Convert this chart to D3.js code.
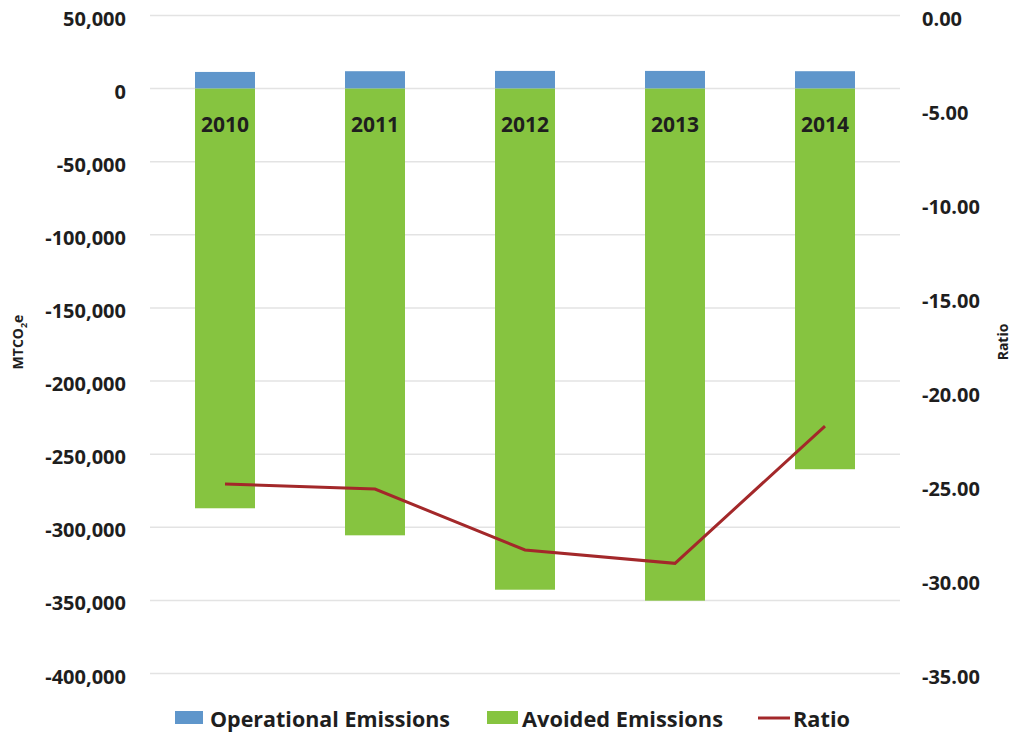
<!DOCTYPE html>
<html>
<head>
<meta charset="utf-8">
<script src="https://cdn.jsdelivr.net/npm/d3@7"></script>
<style>
  body { margin: 0; background: #fff; }
  text { font-family: "Open Sans", "Noto Sans", sans-serif; font-weight: 700; fill: #1e1e1e; }
</style>
</head>
<body>
<div id="chart"></div>
<script>
// data
const years = ["2010", "2011", "2012", "2013", "2014"];
const operational = [11400, 11900, 12100, 12100, 11900];
const avoided = [-287000, -305500, -342700, -350200, -260300];
const ratio = [-24.92, -25.19, -28.43, -29.14, -21.84];

const leftTicks = [50000, 0, -50000, -100000, -150000, -200000, -250000, -300000, -350000, -400000];
const rightTicks = [0, -5, -10, -15, -20, -25, -30, -35];

const width = 1013;
const height = 732;

const svg = d3.select("#chart")
    .append("svg")
    .attr("width", width)
    .attr("height", height);

// scales
const x = d3.scaleBand()
    .domain(years)
    .range([150, 900])
    .paddingInner(0.6)
    .paddingOuter(0.3);

const yL = d3.scaleLinear().domain([-400000, 50000]).range([673.5, 15.5]);
const yR = d3.scaleLinear().domain([-35, 0]).range([673.5, 15.5]);

// gridlines
svg.append("g")
    .selectAll("line")
    .data(leftTicks)
    .join("line")
    .attr("x1", 150)
    .attr("x2", 900)
    .attr("y1", d => yL(d))
    .attr("y2", d => yL(d))
    .attr("stroke", "#e3e3e3")
    .attr("stroke-width", 1.5);

// d3 uses a unicode minus, the original uses a plain hyphen
const hy = s => s.replace("\u2212", "-");

// left axis labels
const fmt = d3.format(",");
svg.append("g")
    .selectAll("text")
    .data(leftTicks)
    .join("text")
    .attr("x", 126)
    .attr("y", d => yL(d) + 10)
    .attr("text-anchor", "end")
    .attr("font-size", 20)
    .text(d => hy(fmt(d)));

// right axis labels
svg.append("g")
    .selectAll("text")
    .data(rightTicks)
    .join("text")
    .attr("x", 922)
    .attr("y", d => yR(d) + 10)
    .attr("text-anchor", "start")
    .attr("font-size", 20)
    .text(d => hy(d3.format(".2f")(d)));

// stacked bars: operational above zero, avoided below
const data = years.map((y, i) => ({year: y, op: operational[i], av: avoided[i], r: ratio[i]}));

svg.append("g")
    .selectAll("rect")
    .data(data)
    .join("rect")
    .attr("x", d => x(d.year))
    .attr("y", d => yL(d.op))
    .attr("width", x.bandwidth())
    .attr("height", d => yL(0) - yL(d.op))
    .attr("fill", "#5f96cb");

svg.append("g")
    .selectAll("rect")
    .data(data)
    .join("rect")
    .attr("x", d => x(d.year))
    .attr("y", yL(0))
    .attr("width", x.bandwidth())
    .attr("height", d => yL(d.av) - yL(0))
    .attr("fill", "#86c440");

// year labels inside the bars
svg.append("g")
    .selectAll("text")
    .data(data)
    .join("text")
    .attr("x", d => x(d.year) + x.bandwidth() / 2)
    .attr("y", yL(0) + 43)
    .attr("text-anchor", "middle")
    .attr("font-size", 21)
    .attr("fill", "#111")
    .text(d => d.year);

// ratio line
const line = d3.line()
    .x(d => x(d.year) + x.bandwidth() / 2)
    .y(d => yR(d.r));

svg.append("path")
    .datum(data)
    .attr("d", line)
    .attr("fill", "none")
    .attr("stroke", "#a3282a")
    .attr("stroke-width", 3);

// axis titles
const lt = svg.append("text")
    .attr("transform", "translate(23,342) rotate(-90)")
    .attr("text-anchor", "middle")
    .attr("font-size", 14);
lt.append("tspan").text("MTCO");
lt.append("tspan").attr("font-size", 9).attr("dy", 4).text("2");
lt.append("tspan").attr("dy", -4).text("e");

svg.append("text")
    .attr("transform", "translate(1008,342) rotate(-90)")
    .attr("text-anchor", "middle")
    .attr("font-size", 14)
    .text("Ratio");

// legend
const legend = svg.append("g");
legend.append("rect").attr("x", 175).attr("y", 711).attr("width", 28).attr("height", 13).attr("fill", "#5f96cb");
legend.append("text").attr("x", 210).attr("y", 727).attr("font-size", 21)
    .attr("textLength", 240).attr("lengthAdjust", "spacingAndGlyphs").text("Operational Emissions");
legend.append("rect").attr("x", 487).attr("y", 711).attr("width", 31).attr("height", 13).attr("fill", "#86c440");
legend.append("text").attr("x", 522).attr("y", 727).attr("font-size", 21)
    .attr("textLength", 201).attr("lengthAdjust", "spacingAndGlyphs").text("Avoided Emissions");
legend.append("line").attr("x1", 758).attr("x2", 790).attr("y1", 718).attr("y2", 718)
    .attr("stroke", "#a3282a").attr("stroke-width", 3);
legend.append("text").attr("x", 793).attr("y", 727).attr("font-size", 21)
    .attr("textLength", 57).attr("lengthAdjust", "spacingAndGlyphs").text("Ratio");
</script>
</body>
</html>
